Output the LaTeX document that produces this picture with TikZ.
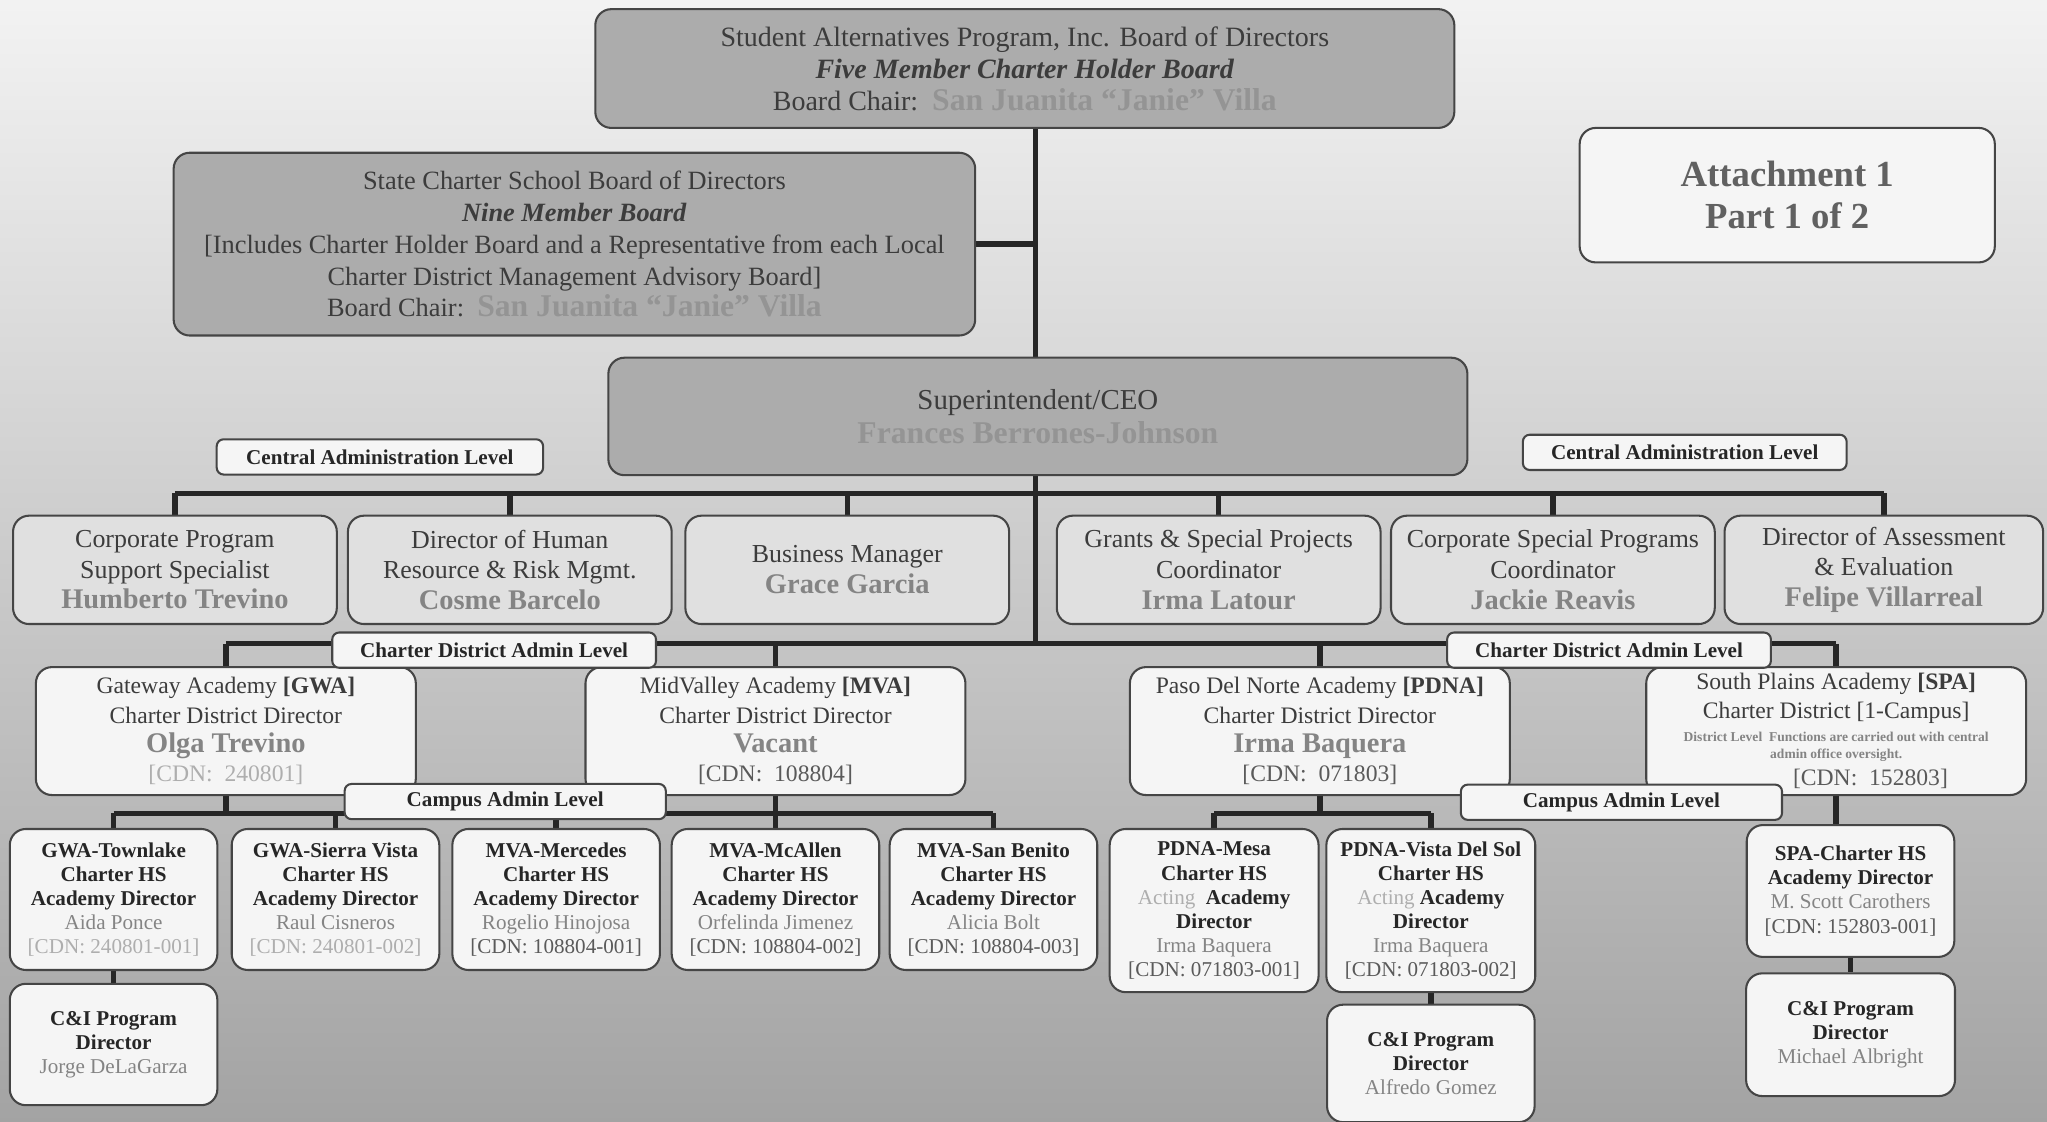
\documentclass[tikz,border=0pt]{standalone}
\usepackage{fontspec}
\setmainfont{Liberation Serif}
\usepackage{xcolor}
\usepackage{tikz}
\usetikzlibrary{positioning,backgrounds}
\definecolor{ink}     {HTML}{3C3C3C}
\definecolor{boardgray}{HTML}{ACACAC}
\definecolor{staffgray}{HTML}{E0E0E0}
\definecolor{paper}   {HTML}{F5F5F5}
\definecolor{rule}    {HTML}{262626}
\definecolor{edge}    {HTML}{454545}
\definecolor{namelite}{HTML}{949494}
\definecolor{namemid} {HTML}{848484}
\definecolor{cdnlite} {HTML}{AEAEAE}
\definecolor{cdndark} {HTML}{5A5A5A}
\newcommand\lname[1]{{\fontsize{13.8}{13.9}\selectfont\bfseries\color{namelite}#1}}
\newcommand\pname[1]{{\fontsize{12.4}{13.4}\selectfont\bfseries\color{namemid}#1}}
\newcommand\cname[1]{{\mdseries\color{namemid}#1}}
\newcommand\cdnlo[1]{{\mdseries\color{cdnlite}[CDN:\ #1]}}
\newcommand\cdnhi[1]{{\mdseries\color{cdndark}[CDN:\ #1]}}
\newcommand\spanote[1]{{\fontsize{5.9}{6.8}\selectfont\bfseries\color{namemid}#1}}

\begin{document}
\begin{tikzpicture}[y=-1cm,
        box/.style={rectangle,rounded corners=7pt,draw=edge,line width=0.9pt,
                    align=center,inner sep=1pt,text=ink},
        board/.style={box,fill=boardgray,font=\fontsize{12.2}{13.9}\selectfont},
        staff/.style={box,fill=staffgray,minimum width=4.96cm,minimum height=1.66cm,
                      font=\fontsize{11.3}{13.4}\selectfont},
        district/.style={box,fill=paper,minimum width=5.82cm,minimum height=1.96cm,
                         font=\fontsize{10.3}{12.7}\selectfont},
        campus/.style={box,fill=paper,minimum width=3.18cm,minimum height=2.16cm,
                       font=\fontsize{9.2}{10.5}\selectfont\bfseries,text=black!85},
        lvl/.style={box,rounded corners=3pt,fill=paper,minimum width=4.96cm,
                    minimum height=0.54cm,font=\fontsize{9.2}{10}\selectfont\bfseries,
                    text=black!85},
        link/.style={draw=rule,line width=2.4pt},
        node distance=0.18cm]
  \useasboundingbox (0,0) rectangle (31.36,17.18);
  \coordinate (spine) at (15.86,0);
  \coordinate (cbus) at (0,7.56);
  \coordinate (dbus) at (0,9.86);
  \coordinate (pbus) at (0,12.46);
  % boards
  \node[board,minimum width=13.16cm,minimum height=1.82cm] (board) at (15.70,1.05)
    {Student Alternatives Program, Inc. Board of Directors\\
     \textbf{\textit{Five Member Charter Holder Board}}\\
     Board Chair:\ \ \lname{San Juanita “Janie” Villa}};
  \node[board,minimum width=12.28cm,minimum height=2.80cm,
        font=\fontsize{11.5}{13.9}\selectfont] (state) at (8.80,3.74)
    {State Charter School Board of Directors\\
     \textbf{\textit{Nine Member Board}}\\
     {}[Includes Charter Holder Board and a Representative from each Local\\
     Charter District Management Advisory Board]\\
     Board Chair:\ \ \lname{San Juanita “Janie” Villa}};
  \node[box,fill=paper,minimum width=6.36cm,minimum height=2.06cm,text=black!62,
        font=\fontsize{16}{18.5}\selectfont\bfseries] (attach) at (27.38,2.99)
    {Attachment 1\\ Part 1 of 2};
  \node[board,minimum width=13.16cm,minimum height=1.80cm,
        font=\fontsize{12.6}{14.8}\selectfont] (ceo) at (15.90,6.38)
    {Superintendent/CEO\\ \lname{Frances Berrones-Johnson}};
  % central administration
  \node[staff] (s1) at (2.68,8.73) {Corporate Program\\ Support Specialist\\ \pname{Humberto Trevino}};
  \node[staff] (s2) at (7.81,8.73) {Director of Human\\ Resource \& Risk Mgmt.\\ \pname{Cosme Barcelo}};
  \node[staff] (s3) at (12.98,8.73) {Business Manager\\ \pname{Grace Garcia}};
  \node[staff] (s4) at (18.67,8.73) {Grants \& Special Projects\\ Coordinator\\ \pname{Irma Latour}};
  \node[staff] (s5) at (23.79,8.73) {Corporate Special Programs\\ Coordinator\\ \pname{Jackie Reavis}};
  \node[staff,minimum width=4.88cm] (s6) at (28.86,8.73) {Director of Assessment\\ \& Evaluation\\ \pname{Felipe Villarreal}};
  % charter districts
  \node[district] (gwa) at (3.46,11.20)
    {Gateway Academy \textbf{[GWA]}\\ Charter District Director\\
     {\large\pname{Olga Trevino}}\\ {\color{cdnlite}[CDN:\ \ 240801]}};
  \node[district] (mva) at (11.88,11.20)
    {MidValley Academy \textbf{[MVA]}\\ Charter District Director\\
     {\large\pname{Vacant}}\\ {\color{cdndark}[CDN:\ \ 108804]}};
  \node[district] (pdna) at (20.22,11.20)
    {Paso Del Norte Academy \textbf{[PDNA]}\\ Charter District Director\\
     {\large\pname{Irma Baquera}}\\ {\color{cdndark}[CDN:\ \ 071803]}};
  \node[district] (spa) at (28.13,11.20)
    {South Plains Academy \textbf{[SPA]}\\ Charter District [1-Campus]\\[-3pt]
     \spanote{District Level\ \ Functions are carried out with central}\\[-5pt]
     \spanote{admin office oversight.}\\[-1pt]
     \hspace*{2.9em}{\color{cdndark}[CDN:\ \ 152803]}};
  % campuses
  \node[campus] (twn) at (1.74,13.78)
    {GWA-Townlake\\ Charter HS\\ Academy Director\\ \cname{Aida Ponce}\\ \cdnlo{240801-001}};
  \node[campus] (sv) at (5.14,13.78)
    {GWA-Sierra Vista\\ Charter HS\\ Academy Director\\ \cname{Raul Cisneros}\\ \cdnlo{240801-002}};
  \node[campus] (mer) at (8.52,13.78)
    {MVA-Mercedes\\ Charter HS\\ Academy Director\\ \cname{Rogelio Hinojosa}\\ \cdnhi{108804-001}};
  \node[campus] (mca) at (11.88,13.78)
    {MVA-McAllen\\ Charter HS\\ Academy Director\\ \cname{Orfelinda Jimenez}\\ \cdnhi{108804-002}};
  \node[campus] (sb) at (15.22,13.78)
    {MVA-San Benito\\ Charter HS\\ Academy Director\\ \cname{Alicia Bolt}\\ \cdnhi{108804-003}};
  \node[campus,minimum width=3.20cm,minimum height=2.50cm] (mesa) at (18.60,13.95)
    {PDNA-Mesa\\ Charter HS\\ {\mdseries\color{cdnlite}Acting}\ \ Academy\\ Director\\ \cname{Irma Baquera}\\ \cdnhi{071803-001}};
  \node[campus,minimum width=3.20cm,minimum height=2.50cm] (vds) at (21.92,13.95)
    {PDNA-Vista Del Sol\\ Charter HS\\ {\mdseries\color{cdnlite}Acting} Academy\\ Director\\ \cname{Irma Baquera}\\ \cdnhi{071803-002}};
  \node[campus,minimum height=2.02cm] (spac) at (28.35,13.65)
    {SPA-Charter HS\\ Academy Director\\ \cname{M. Scott Carothers}\\ \cdnhi{152803-001}};
  % curriculum and instruction
  \node[campus,minimum height=1.86cm,below=0.18cm of twn] (ci1)
    {C\&I Program\\ Director\\ \cname{Jorge DeLaGarza}};
  \node[campus,minimum height=1.80cm,below=0.16cm of vds] (ci2)
    {C\&I Program\\ Director\\ \cname{Alfredo Gomez}};
  \node[campus,minimum width=3.20cm,minimum height=1.88cm,below=0.22cm of spac] (ci3)
    {C\&I Program\\ Director\\ \cname{Michael Albright}};
  % level tags
  \node[lvl,minimum width=5.0cm] (cal1) at (5.82,7.00) {Central Administration Level};
  \node[lvl] (cal2) at (25.81,6.93) {Central Administration Level};
  \node[lvl] (cdl1) at (7.57,9.96) {Charter District Admin Level};
  \node[lvl] (cdl2) at (24.65,9.96) {Charter District Admin Level};
  \node[lvl,minimum width=4.92cm] (cam1) at (7.74,12.28) {Campus Admin Level};
  \node[lvl,minimum width=4.92cm] (cam2) at (24.84,12.29) {Campus Admin Level};
  \begin{scope}[on background layer]
    \shade[top color=black!5,middle color=black!19,bottom color=black!36]
      (0,0) rectangle (31.36,17.18);
    \draw[link] (board.south -| spine) -- (spine |- dbus);
    \draw[link] (state.east) -- (state.east -| spine);
    \draw[link] (s1.north |- cbus) -- (s6.north |- cbus);
    \foreach \n in {s1,s2,s3,s4,s5,s6}
      \draw[link] (\n.north |- cbus) -- (\n.north);
    \draw[link] (gwa.north |- dbus) -- (spa.north |- dbus);
    \foreach \n in {gwa,mva,pdna,spa}
      \draw[link] (\n.north |- dbus) -- (\n.north);
    \draw[link] (twn.north |- pbus) -- (sb.north |- pbus);
    \foreach \n in {twn,sv,mer,mca,sb,mesa,vds}
      \draw[link] (\n.north |- pbus) -- (\n.north);
    \draw[link] (mesa.north |- pbus) -- (vds.north |- pbus);
    \foreach \n in {gwa,mva,pdna}
      \draw[link] (\n.south) -- (\n.south |- pbus);
    \draw[link] (spa.south) -- (spa.south |- spac.north);
    \draw[link] (twn) -- (ci1);
    \draw[link] (vds) -- (ci2);
    \draw[link] (spac.south) -- (spac.south |- ci3.north);
  \end{scope}
\end{tikzpicture}
\end{document}
